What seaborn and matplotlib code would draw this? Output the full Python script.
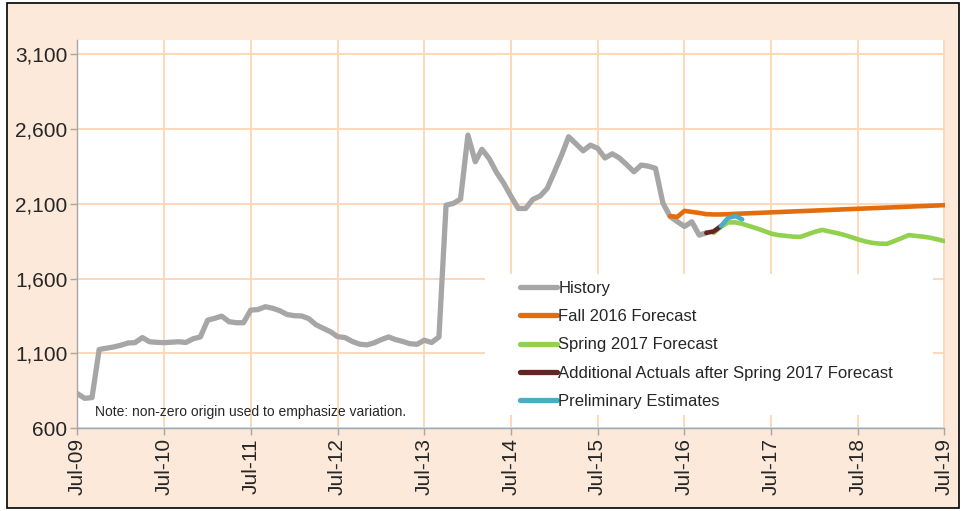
import numpy as np
import pandas as pd
import matplotlib
matplotlib.use('Agg')
import matplotlib.pyplot as plt
import matplotlib.dates as mdates
from matplotlib.patches import Rectangle
import seaborn as sns

# monthly values, History starts Jul-09
history = [832, 800, 805, 1126, 1135, 1143, 1155, 1170, 1172, 1206, 1178, 1174,
           1172, 1175, 1178, 1173, 1198, 1210, 1322, 1335, 1349, 1312, 1305, 1305,
           1389, 1393, 1412, 1402, 1385, 1360, 1352, 1350, 1333, 1292, 1268, 1245,
           1212, 1206, 1180, 1162, 1157, 1170, 1192, 1210, 1193, 1180, 1165, 1161,
           1188, 1173, 1210, 2090, 2102, 2131, 2558, 2380, 2463, 2400, 2310, 2236,
           2150, 2068, 2068, 2128, 2151, 2202, 2315, 2430, 2547, 2500, 2453, 2491,
           2470, 2405, 2433, 2405, 2360, 2313, 2358, 2350, 2336, 2105, 2015, 1980,
           1948, 1979, 1890, 1905]
history_start = '2009-07-01'

fall16 = [2017, 2012, 2052, 2045, 2038, 2030, 2028, 2028, 2030, 2032, 2034, 2036,
          2038, 2040, 2042, 2044, 2046, 2048, 2050, 2052, 2054, 2056, 2058, 2060,
          2062, 2064, 2066, 2068, 2070, 2072, 2074, 2076, 2078, 2080, 2082, 2084,
          2086, 2088, 2090, 2092, 2094, 2096, 2098, 2102]
fall16_start = '2016-05-01'

spring17 = [1905, 1945, 1975, 1975, 1965, 1950, 1935, 1918, 1900, 1890, 1885, 1880,
            1878, 1895, 1912, 1925, 1915, 1905, 1893, 1878, 1862, 1848, 1838, 1833,
            1832, 1850, 1870, 1890, 1885, 1880, 1873, 1862, 1850]
spring17_start = '2016-11-01'

actuals = [1905, 1915, 1950]
actuals_start = '2016-10-01'

prelim = [1950, 2005, 2017, 1995]
prelim_start = '2016-12-01'

series_names = ['History', 'Fall 2016 Forecast', 'Spring 2017 Forecast',
                'Additional Actuals after Spring 2017 Forecast', 'Preliminary Estimates']
colors = ['#A6A6A6', '#E46C0A', '#92D050', '#632523', '#4BACC6']

frames = []
for name, vals, start in zip(series_names,
                             [history, fall16, spring17, actuals, prelim],
                             [history_start, fall16_start, spring17_start, actuals_start, prelim_start]):
    frames.append(pd.DataFrame({'date': pd.date_range(start, periods=len(vals), freq='MS'),
                                'value': vals, 'series': name}))
df = pd.concat(frames, ignore_index=True)

sns.set_style('white')
plt.rcParams['font.family'] = ['Liberation Sans', 'DejaVu Sans']

fig = plt.figure(figsize=(9.63, 5.11), dpi=100)
fig.patch.set_facecolor('white')
fig.patches.append(Rectangle((7 / 963, 1 - 508 / 511), 952 / 963, 505 / 511,
                             transform=fig.transFigure, facecolor='#FDE9D9',
                             edgecolor='black', linewidth=1.2, zorder=-5))

ax = fig.add_axes([77.3 / 963, 1 - 428.3 / 511, (944.5 - 77.3) / 963, (428.3 - 40) / 511])
ax.set_facecolor('white')

for name, c in zip(series_names, colors):
    sub = df[df['series'] == name]
    lw = 3.8 if name == 'History' else 3.3
    sns.lineplot(data=sub, x='date', y='value', color=c, linewidth=lw,
                 label=name, ax=ax, solid_capstyle='round', zorder=3)

ax.set_xlim(pd.Timestamp('2009-07-01'), pd.Timestamp('2019-07-01'))
ax.set_ylim(600, 3193)
ax.set_yticks(np.arange(600, 3101, 500))
ax.yaxis.set_major_formatter(matplotlib.ticker.FuncFormatter(lambda v, p: f'{int(v):,}'))
ax.set_xticks(pd.date_range('2009-07-01', '2019-07-01', freq='12MS'))
ax.xaxis.set_major_formatter(mdates.DateFormatter('%b-%y'))
plt.setp(ax.get_xticklabels(), rotation=90)
ax.set_xlabel('')
ax.set_ylabel('')

ax.grid(True, color='#FCD5B4', linewidth=1.3)
ax.set_axisbelow(True)
for s in ['top', 'right']:
    ax.spines[s].set_visible(False)
for s in ['left', 'bottom']:
    ax.spines[s].set_color('#A6A6A6')
    ax.spines[s].set_linewidth(1.0)
ax.tick_params(axis='both', which='major', labelsize=15, length=5, width=1,
               color='#A6A6A6', direction='out', pad=2, left=True, bottom=True)

# white legend box covering the gridlines
ax.add_patch(Rectangle(((485 - 77.3) / 867.2, (428.3 - 415) / 388.3), 448 / 867.2, 141 / 388.3,
                       transform=ax.transAxes, facecolor='white', edgecolor='none', zorder=1))

leg = ax.legend(loc='upper left', bbox_to_anchor=((520 - 77.3) / 867.2, (428.3 - 281) / 388.3),
                frameon=False, fontsize=12, handlelength=2.2, handletextpad=0.1,
                labelspacing=0.79, borderpad=0, borderaxespad=0)
for line in leg.get_lines():
    line.set_linewidth(3.8)

ax.text((95 - 77.3) / 867.2, (428.3 - 412) / 388.3,
        'Note: non-zero origin used to emphasize variation.',
        transform=ax.transAxes, fontsize=10, va='center', ha='left')

fig.savefig('out.png', dpi=100, facecolor=fig.get_facecolor())
